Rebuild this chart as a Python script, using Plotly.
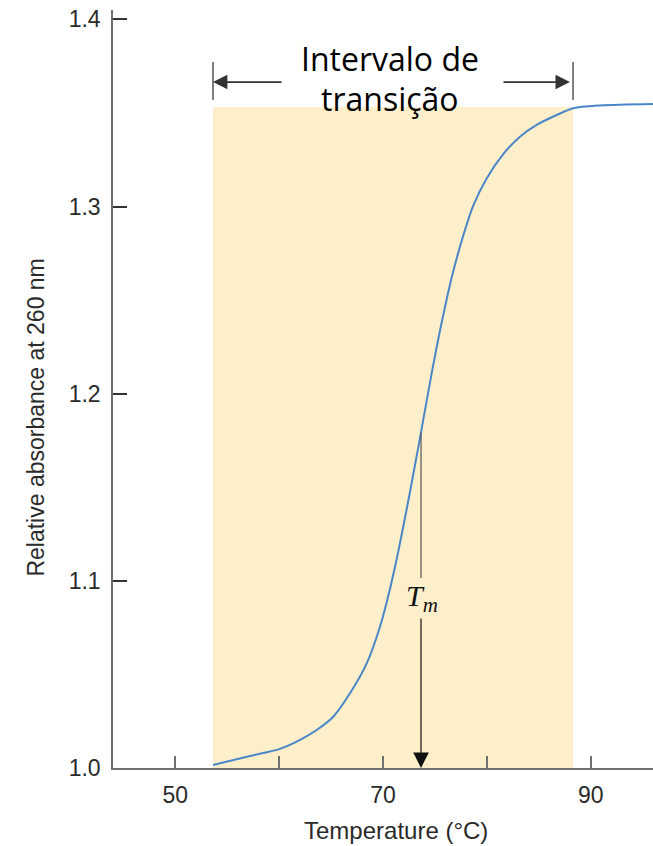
import plotly.graph_objects as go

# Melting curve of DNA: relative absorbance at 260 nm vs temperature
temperature = [53.63, 57.19, 60.08, 62.01, 63.61, 65.21, 66.82, 68.43, 69.71, 70.67,
               71.47, 72.44, 72.92, 73.66, 74.69, 75.65, 76.61, 77.73, 78.69, 79.98,
               81.58, 83.19, 84.80, 86.73, 88.32, 90.89, 96.0]
absorbance = [1.0016, 1.0064, 1.0102, 1.0150, 1.0203, 1.0274, 1.0399, 1.0559, 1.0755, 1.0957,
              1.1157, 1.1429, 1.1571, 1.1793, 1.2110, 1.2380, 1.2620, 1.2845, 1.3005, 1.3150,
              1.3280, 1.3373, 1.3436, 1.3489, 1.3525, 1.3540, 1.3548]

transition_range = [53.63, 88.3]   # start / end of the transition interval (°C)
tm = 73.66                         # melting temperature
tm_absorbance = 1.1793
plateau = 1.3532

y_ticks = [1.0, 1.1, 1.2, 1.3, 1.4]
y_tick_text = ["1.0", "1.1", "1.2", "1.3", "1.4"]
x_ticks = [50, 60, 70, 80, 90]
x_tick_text = ["50", "", "70", "", "90"]

X_RANGE = [44.0, 96.0]
Y_RANGE = [1.0, 1.405]

AXIS_COLOR = "#707070"
TEXT_COLOR = "#2a2a2a"
SANS = "Liberation Sans, Arial, sans-serif"
TICK_FONT = dict(family=SANS, size=23, color=TEXT_COLOR)
CAPTION_FONT = dict(family="Open Sans, sans-serif", size=32, color="#000000")

fig = go.Figure()

fig.add_trace(go.Scatter(
    x=temperature, y=absorbance, mode="lines",
    line=dict(color="#4a86c8", width=2, shape="spline", smoothing=0.8),
    hoverinfo="skip", showlegend=False,
))

shapes = [
    # shaded transition interval
    dict(type="rect", xref="x", yref="y", layer="below",
         x0=transition_range[0], x1=transition_range[1], y0=Y_RANGE[0], y1=plateau,
         fillcolor="#fdefc9", line=dict(width=0)),
    # end bars of the interval marker
    dict(type="line", xref="x", yref="y", x0=transition_range[0], x1=transition_range[0],
         y0=1.3569, y1=1.3772, line=dict(color="#555555", width=1.5)),
    dict(type="line", xref="x", yref="y", x0=transition_range[1], x1=transition_range[1],
         y0=1.3569, y1=1.3772, line=dict(color="#555555", width=1.5)),
    # Tm drop line (upper part, above the label)
    dict(type="line", xref="x", yref="y", x0=tm, x1=tm, y0=tm_absorbance, y1=1.1015,
         line=dict(color="#555555", width=1.2)),
]

annotations = [
    # interval arrows
    dict(x=transition_range[0], y=1.3665, ax=60.37, ay=1.3665, xref="x", yref="y",
         axref="x", ayref="y", text="", showarrow=True, arrowhead=2, arrowsize=1.6,
         arrowwidth=1.8, arrowcolor="#333333"),
    dict(x=transition_range[1] - 0.3, y=1.3665, ax=81.46, ay=1.3665, xref="x", yref="y",
         axref="x", ayref="y", text="", showarrow=True, arrowhead=2, arrowsize=1.6,
         arrowwidth=1.8, arrowcolor="#333333"),
    # Tm drop line (lower part, with arrow to the axis)
    dict(x=tm, y=1.0, ax=tm, ay=1.0807, xref="x", yref="y", axref="x", ayref="y",
         text="", showarrow=True, arrowhead=2, arrowsize=2.6, arrowwidth=1.2,
         arrowcolor="#111111"),
    # Tm label
    dict(x=tm + 0.1, y=1.0910, xref="x", yref="y", showarrow=False,
         text="<i>T</i><sub><i>m</i></sub>",
         font=dict(family="Liberation Serif, Times New Roman, serif", size=30, color="#111111")),
    # interval caption
    dict(x=70.67, y=1.3790, xref="x", yref="y", showarrow=False, text="Intervalo de",
         yanchor="middle", font=CAPTION_FONT),
    dict(x=70.67, y=1.3578, xref="x", yref="y", showarrow=False, text="transição",
         yanchor="middle", font=CAPTION_FONT),
    # axis titles
    dict(x=-0.143, y=0.462, xref="paper", yref="paper", showarrow=False, textangle=-90,
         xanchor="center", yanchor="middle",
         text="Relative absorbance at 260 nm",
         font=dict(family=SANS, size=23, color=TEXT_COLOR)),
    dict(x=0.524, y=-0.082, xref="paper", yref="paper", showarrow=False,
         xanchor="center", yanchor="middle",
         text="Temperature (°C)",
         font=dict(family=SANS, size=24, color=TEXT_COLOR)),
]

fig.update_layout(
    width=653, height=846,
    margin=dict(l=113, r=0, t=10, b=78),
    paper_bgcolor="white", plot_bgcolor="white",
    shapes=shapes, annotations=annotations,
    showlegend=False,
)

fig.update_xaxes(
    range=X_RANGE, tickvals=x_ticks, ticktext=x_tick_text,
    ticks="inside", ticklen=12, tickwidth=1.5, tickcolor=AXIS_COLOR,
    showline=True, linecolor=AXIS_COLOR, linewidth=1.5,
    showgrid=False, zeroline=False, tickfont=TICK_FONT, ticklabelstandoff=6,
)
fig.update_yaxes(
    range=Y_RANGE, tickvals=y_ticks, ticktext=y_tick_text,
    ticks="inside", ticklen=14, tickwidth=1.5, tickcolor="#333333",
    showline=True, linecolor=AXIS_COLOR, linewidth=1.5,
    showgrid=False, zeroline=False, tickfont=TICK_FONT, ticklabelstandoff=6,
)

fig.write_html("out.html")
